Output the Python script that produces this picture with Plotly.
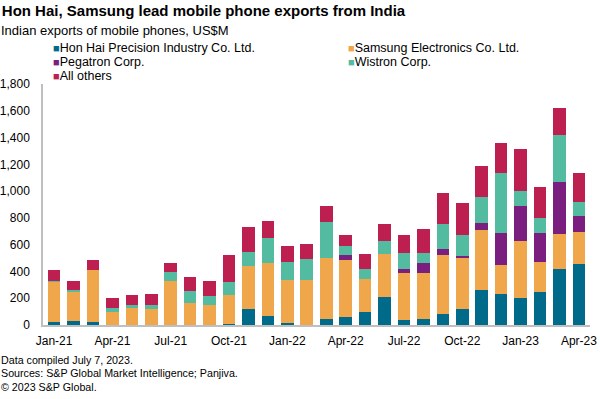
import plotly.graph_objects as go

months = ["Jan-21","Feb-21","Mar-21","Apr-21","May-21","Jun-21","Jul-21","Aug-21","Sep-21","Oct-21","Nov-21","Dec-21",
          "Jan-22","Feb-22","Mar-22","Apr-22","May-22","Jun-22","Jul-22","Aug-22","Sep-22","Oct-22","Nov-22","Dec-22",
          "Jan-23","Feb-23","Mar-23","Apr-23"]
hon_hai  = [20, 30, 25, 0, 0, 0, 0, 0, 0, 7, 117, 70, 15, 0, 42, 60, 95, 207, 40, 45, 82, 117, 261, 234, 204, 244, 421, 453]
samsung  = [303, 222, 386, 97, 129, 122, 331, 167, 147, 217, 324, 391, 319, 339, 461, 423, 249, 326, 351, 341, 439, 381, 446, 216, 426, 224, 261, 239]
pegatron = [0, 0, 0, 0, 0, 0, 0, 0, 0, 0, 0, 0, 0, 0, 0, 40, 0, 0, 25, 75, 44, 20, 55, 235, 259, 222, 389, 120]
wistron  = [3, 7, 0, 32, 23, 30, 63, 87, 72, 97, 102, 191, 134, 154, 269, 69, 72, 94, 124, 79, 187, 152, 196, 448, 112, 107, 348, 109]
others   = [88, 72, 75, 75, 70, 82, 67, 107, 107, 202, 191, 125, 124, 114, 117, 80, 114, 127, 135, 177, 236, 244, 230, 224, 314, 236, 200, 217]
tick_labels = months[::3]

series = [
    ("Hon Hai Precision Industry Co. Ltd.", hon_hai, "#006A8A"),
    ("Samsung Electronics Co. Ltd.", samsung, "#F0A64A"),
    ("Pegatron Corp.", pegatron, "#7A1E80"),
    ("Wistron Corp.", wistron, "#52BBA0"),
    ("All others", others, "#BD1F50"),
]

W, H = 600, 399
ml, mr, mt, mb = 43, 10, 84, 74
pw, ph = W - ml - mr, H - mt - mb

def px2x(px):
    return (px - ml) / pw

def py2y(py):
    return (H - mb - py) / ph

FONT = "Liberation Sans, Arial, sans-serif"

fig = go.Figure()
for name, vals, col in series:
    fig.add_trace(go.Bar(x=months, y=vals, name=name, marker=dict(color=col, line=dict(width=0)),
                         showlegend=False))

annotations = []
leg_pos = [(52, 48), (347, 48), (52, 62), (347, 62), (52, 76)]
for (name, vals, col), (lx, ly) in zip(series, leg_pos):
    annotations.append(dict(
        x=px2x(lx), y=py2y(ly), xref="paper", yref="paper", xanchor="left", yanchor="middle",
        text=f"<span style='color:{col};font-size:11px'>■</span>{name}", showarrow=False, borderpad=0,
        font=dict(family=FONT, size=12.5, color="#000000")))

annotations.append(dict(x=px2x(0), y=py2y(31), xref="paper", yref="paper", xanchor="left", yanchor="middle",
                        text="Indian exports of mobile phones, US$M", showarrow=False, borderpad=0,
                        font=dict(family=FONT, size=13, color="#000000")))

foot = ["Data compiled July 7, 2023.", "Sources: S&P Global Market Intelligence; Panjiva.", "© 2023 S&P Global."]
for i, t in enumerate(foot):
    annotations.append(dict(x=px2x(0), y=py2y(359.5 + 13.5 * i), xref="paper", yref="paper", xanchor="left",
                            yanchor="middle", text=t, showarrow=False, borderpad=0,
                            font=dict(family=FONT, size=10.7, color="#000000")))

fig.update_layout(
    width=W, height=H, barmode="stack", bargap=0.35,
    margin=dict(l=ml, r=mr, t=mt, b=mb, pad=0, autoexpand=False),
    paper_bgcolor="white", plot_bgcolor="white",
    title=dict(text="<b>Hon Hai, Samsung lead mobile phone exports from India</b>", x=0.003, xref="container",
               xanchor="left", y=1 - 11 / H, yref="container", yanchor="middle",
               font=dict(family=FONT, size=15, color="#000000")),
    xaxis=dict(type="category", tickmode="array", tickvals=tick_labels, ticktext=tick_labels,
               showline=True, linecolor="#BFBFBF", linewidth=1.5, ticks="", showgrid=False, automargin=False,
               ticklabelstandoff=4,
               tickfont=dict(family=FONT, size=12, color="#000000"), range=[-0.57, 27.57]),
    yaxis=dict(range=[0, 1800], tickvals=list(range(0, 1801, 200)), tickformat=",", showline=True,
               linecolor="#BFBFBF", linewidth=1.5, showgrid=False, zeroline=False, ticks="", automargin=False,
               ticklabelstandoff=9, tickfont=dict(family=FONT, size=12, color="#000000")),
    annotations=annotations,
    showlegend=False,
)

fig.write_html("out.html", config={"displayModeBar": False},
               post_script="document.body.style.margin='0';document.body.style.padding='0';")
